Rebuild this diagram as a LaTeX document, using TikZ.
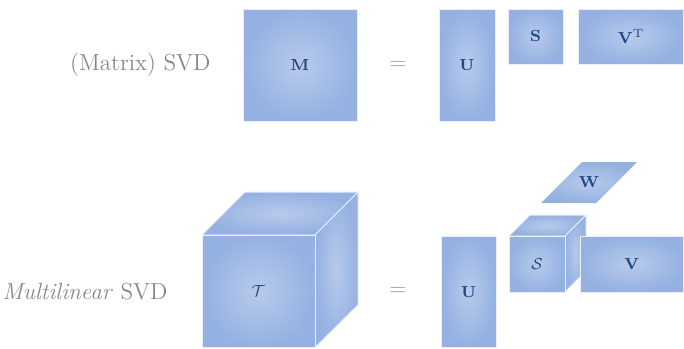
\documentclass[tikz,border=0pt]{standalone}
\usetikzlibrary{calc}
\definecolor{outerc}{RGB}{148,177,225}
\definecolor{innerc}{RGB}{184,202,236}
\definecolor{labc}{RGB}{28,72,132}
\definecolor{edgec}{RGB}{236,238,250}
\definecolor{txtgray}{RGB}{135,135,135}
\tikzset{
  face/.style={shading=radial, inner color=innerc, outer color=outerc, draw=edgec, line width=0.5pt},
  blk/.style={face, inner sep=0pt, text=labc, font=\fontsize{8.5}{10}\selectfont},
  sidetxt/.style={text=txtgray, font=\fontsize{11.6}{13}\selectfont, inner sep=0pt},
  eqsign/.style={text=txtgray!80, font=\fontsize{11}{13}\selectfont, inner sep=0pt}
}
\begin{document}
\begin{tikzpicture}[x=0.5pt,y=-0.5pt]
\useasboundingbox (0,0) rectangle (684,348);
% ---- Matrix SVD ----
\node[sidetxt, anchor=east] (lab1) at (211,65) {(Matrix) SVD};
\node[blk, minimum width=57pt, minimum height=56pt] (M) at (300,65) {$\mathbf{M}$};
\node[eqsign] (eq1) at (398,65) {$=$};
\node[blk, minimum width=28pt, minimum height=56pt] (U1) at (467,65) {$\mathbf{U}$};
\node[blk, minimum width=27.5pt, minimum height=27.5pt] (S1) at (535.5,36.5) {$\mathbf{S}$};
\node[blk, minimum width=52.8pt, minimum height=27.5pt] (VT) at (631,36.5) {$\mathbf{V}^{\mathrm{T}}$};
% ---- Multilinear SVD ----
\node[sidetxt, anchor=east] (lab2) at (168,292) {\textit{Multilinear} SVD};
\path[face] (202,235) -- ++(43,-43) -- ++(113,0) -- (315,235) -- cycle;
\path[face] (315,235) -- ++(43,-43) -- ++(0,113) -- (315,347.5) -- cycle;
\node[blk, minimum width=56.5pt, minimum height=56.25pt] (T) at (258.5,291.25) {$\mathcal{T}$};
\node[eqsign] (eq2) at (398,291) {$=$};
\node[blk, minimum width=27.5pt, minimum height=55.75pt] (U2) at (468.5,291.75) {$\mathbf{U}$};
\path[face] (509,236) -- ++(21,-21) -- ++(56,0) -- (565,236) -- cycle;
\path[face] (565,236) -- ++(21,-21) -- ++(0,56) -- (565,292) -- cycle;
\node[blk, minimum width=28pt, minimum height=28pt] (S2) at (537,264) {$\mathcal{S}$};
\node[blk, minimum width=51.8pt, minimum height=28pt] (V) at (631.8,264) {$\mathbf{V}$};
\path[shading=radial, inner color=innerc, outer color=outerc] (541,203) -- (596,203) -- (637,162) -- (582,162) -- cycle;
\node[text=labc, font=\fontsize{8.5}{10}\selectfont, inner sep=0pt] (W) at (589,182.5) {$\mathbf{W}$};
\end{tikzpicture}
\end{document}
